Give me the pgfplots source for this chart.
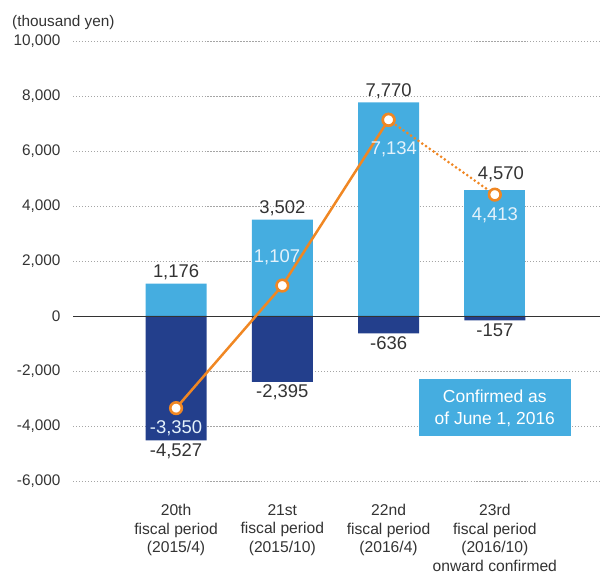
\documentclass[border=0pt]{standalone}
\usepackage{pgfplots}
\pgfplotsset{compat=1.18}
\usepackage{fontspec}
\setmainfont{Liberation Sans}
\definecolor{lb}{RGB}{69,173,224}
\definecolor{db}{RGB}{35,63,140}
\definecolor{org}{RGB}{240,135,35}
\definecolor{txt}{RGB}{51,51,51}
\definecolor{inl}{RGB}{228,242,251}
\definecolor{grd}{RGB}{165,165,165}
\begin{document}
\begin{tikzpicture}
\useasboundingbox (-73bp,-98bp) rectangle (535bp,481bp);
\begin{axis}[at={(0,0)}, anchor=south west, scale only axis, width=527bp, height=440bp,
 xmin=-0.97, xmax=3.99, ymin=-6000, ymax=10000,
 axis line style={draw=none}, major tick length=0pt,
 scaled y ticks=false,
 ytick={-6000,-4000,...,10000},
 yticklabels={{-6,000},{-4,000},{-2,000},0,{2,000},{4,000},{6,000},{8,000},{10,000}},
 ymajorgrids, grid style={grd, dash pattern=on 1.2pt off 1.8pt, line width=0.8pt},
 xtick={0,1,2,3},
 xticklabels={{20th\\fiscal period\\(2015/4)},{21st\\fiscal period\\(2015/10)},{22nd\\fiscal period\\(2016/4)},{23rd\\fiscal period\\(2016/10)\\onward confirmed}},
 xticklabel style={align=center, font=\fontsize{15.7}{18.5}\selectfont, text=txt, yshift=-20bp},
 yticklabel style={font=\fontsize{15.4}{18}\selectfont, text=txt, xshift=-9bp},
 /pgf/number format/.cd, 1000 sep={,}, assume math mode=true,
]
\addplot[ybar, bar width=0.574, bar shift=0pt, fill=lb, draw=none, nodes near coords,
  every node near coord/.append style={font=\fontsize{18.5}{20}\selectfont, text=txt, inner sep=3.5pt}]
  coordinates {(0,1176)(1,3502)(2,7770)};
\addplot[ybar, bar width=0.574, bar shift=0pt, fill=lb, draw=none, nodes near coords,
  every node near coord/.append style={font=\fontsize{18.5}{20}\selectfont, text=txt, inner sep=3.5pt, xshift=6bp, yshift=5bp}]
  coordinates {(3,4570)};
\addplot[ybar, bar width=0.574, bar shift=0pt, fill=db, draw=none, nodes near coords,
  every node near coord/.append style={font=\fontsize{18.5}{20}\selectfont, text=txt, inner sep=3pt}]
  coordinates {(0,-4527)(1,-2395)(2,-636)(3,-157)};
\addplot[txt, line width=1pt] coordinates {(-0.97,0)(3.99,0)};
\addplot[org, line width=3pt, line cap=round, dash pattern=on 0pt off 4.6pt, mark=*, mark size=5.8bp,
  mark options={fill=white, draw=org, line width=2.6pt, solid}] coordinates {(2,7134)(3,4413)};
\addplot[org, line width=2.5pt, mark=*, mark size=5.8bp,
  mark options={fill=white, draw=org, line width=2.6pt}] coordinates {(0,-3350)(1,1107)(2,7134)};
\node[font=\fontsize{18.5}{20}\selectfont, text=inl] at (axis cs:0,-3350) [yshift=-20bp] {-3,350};
\node[font=\fontsize{18.5}{20}\selectfont, text=inl] at (axis cs:0.95,1107) [yshift=28bp] {1,107};
\node[font=\fontsize{18.5}{20}\selectfont, text=inl] at (axis cs:2.05,7134) [yshift=-29bp] {7,134};
\node[font=\fontsize{18.5}{20}\selectfont, text=inl] at (axis cs:3,4413) [yshift=-21bp] {4,413};
\node[fill=lb, text=white, minimum width=152bp, minimum height=57bp, align=center, inner sep=0pt,
  font=\fontsize{17.5}{22}\selectfont] at (axis cs:3,-3345) {Confirmed as\\of June 1, 2016};
\end{axis}
\node[anchor=west, inner sep=0pt, font=\fontsize{15.4}{18}\selectfont, text=txt] at (-61bp,458bp) {(thousand yen)};
\end{tikzpicture}
\end{document}
